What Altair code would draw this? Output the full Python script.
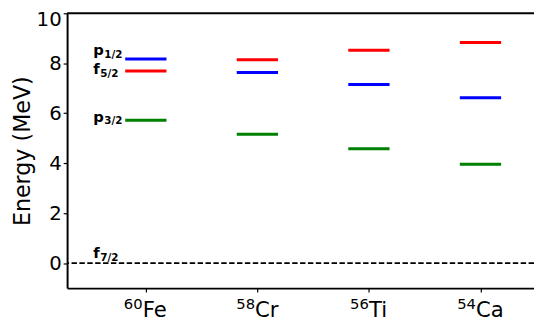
import altair as alt
import pandas as pd

# ---- data ----
nuclei = ["Fe", "Cr", "Ti", "Ca"]
mass_numbers = ["60", "58", "56", "54"]
e_p12 = [8.17, 7.63, 7.15, 6.62]   # blue
e_f52 = [7.69, 8.14, 8.52, 8.83]   # red
e_p32 = [5.72, 5.16, 4.58, 3.96]   # green
orb_letters = ["p", "f", "p", "f"]
orb_subs = ["1/2", "5/2", "3/2", "7/2"]
orb_label_energy = [8.32, 7.56, 5.65, 0.2]
y_ticks = [0, 2, 4, 6, 8, 10]

HALF = 0.185
W, H = 474, 279
FONT = "DejaVu Sans"

rows = []
for state, vals in [("p1/2", e_p12), ("f5/2", e_f52), ("p3/2", e_p32)]:
    for i, v in enumerate(vals):
        rows.append({"pos": i, "lo": i - HALF, "hi": i + HALF, "energy": v, "state": state})
levels = pd.DataFrame(rows)

xscale = alt.Scale(domain=[-0.706, 3.48], nice=False, zero=False)
yscale = alt.Scale(domain=[-1, 10], nice=False, zero=False)
xaxis = alt.Axis(values=[0, 1, 2, 3], labels=False, title=None, grid=False, tickSize=4)
yaxis = alt.Axis(values=y_ticks, title="Energy (MeV)", grid=False, tickSize=4,
                 labelFontSize=20, titleFontSize=22.5, labelPadding=2, titlePadding=2,
                 titleFontWeight="normal",
                 labelOffset={"condition": {"test": "datum.value == 10", "value": 6},
                              "value": 0})


def X(field="pos"):
    return alt.X(f"{field}:Q", scale=xscale, axis=xaxis)


def Y(field="energy"):
    return alt.Y(f"{field}:Q", scale=yscale, axis=yaxis)


lines = alt.Chart(levels).mark_rule(strokeWidth=3).encode(
    x=X("lo"), x2="hi", y=Y(),
    color=alt.Color("state:N", scale=alt.Scale(domain=["p1/2", "f5/2", "p3/2"],
                                                range=["#0000ff", "#ff0000", "#008000"]),
                    legend=None),
)

zero = alt.Chart(pd.DataFrame({"energy": [0]})).mark_rule(
    strokeDash=[5.5, 2.5], strokeWidth=1.6, color="black").encode(y=Y())

top = alt.Chart(pd.DataFrame({"energy": [10]})).mark_rule(
    strokeWidth=2, color="black").encode(y=alt.value(0))

layers = [lines, zero, top]

# orbital labels (bold, with subscripts)
letter_w = {"p": 0.716, "f": 0.435}
for L, S, E in zip(orb_letters, orb_subs, orb_label_energy):
    d = pd.DataFrame({"pos": [-HALF], "energy": [E], "t": [L], "s": [S]})
    base_dx = -32.4
    layers.append(alt.Chart(d).mark_text(
        align="left", baseline="alphabetic", font=FONT, fontWeight="bold",
        fontSize=15, dx=base_dx, color="black").encode(x=X(), y=Y(), text="t:N"))
    layers.append(alt.Chart(d).mark_text(
        align="left", baseline="alphabetic", font=FONT, fontWeight="bold",
        fontSize=10.5, dx=base_dx + letter_w[L] * 15 + 0.5, dy=2.5,
        color="black").encode(x=X(), y=Y(), text="s:N"))

# x tick labels with superscript mass numbers
adv = {"F": 0.575, "e": 0.615, "C": 0.698, "r": 0.411, "T": 0.611, "i": 0.278, "a": 0.613}
MAIN, SUP = 21.5, 15
for i, (el, A) in enumerate(zip(nuclei, mass_numbers)):
    main_w = sum(adv[c] for c in el) * MAIN
    sup_w = 0.636 * len(A) * SUP
    start = -(main_w + sup_w) / 2
    d = pd.DataFrame({"pos": [i], "energy": [-1], "el": [el], "A": [A]})
    layers.append(alt.Chart(d).mark_text(
        align="left", baseline="alphabetic", font=FONT, fontSize=MAIN,
        dx=start + sup_w, dy=29, color="black").encode(x=X(), y=Y(), text="el:N"))
    layers.append(alt.Chart(d).mark_text(
        align="right", baseline="alphabetic", font=FONT, fontSize=SUP,
        dx=start + sup_w, dy=21, color="black").encode(x=X(), y=Y(), text="A:N"))

chart = alt.layer(*layers).properties(
    width=W, height=H,
    autosize=alt.AutoSizeParams(type="none"),
    padding={"left": 60, "top": 3, "right": 0, "bottom": 31},
).configure_view(stroke=None).configure_axis(
    domainColor="black", domainWidth=2, tickColor="black", tickWidth=1.2,
    labelColor="black", titleColor="black", labelFont=FONT, titleFont=FONT,
)

chart.save("out.html", embed_options={"renderer": "svg", "actions": False})
